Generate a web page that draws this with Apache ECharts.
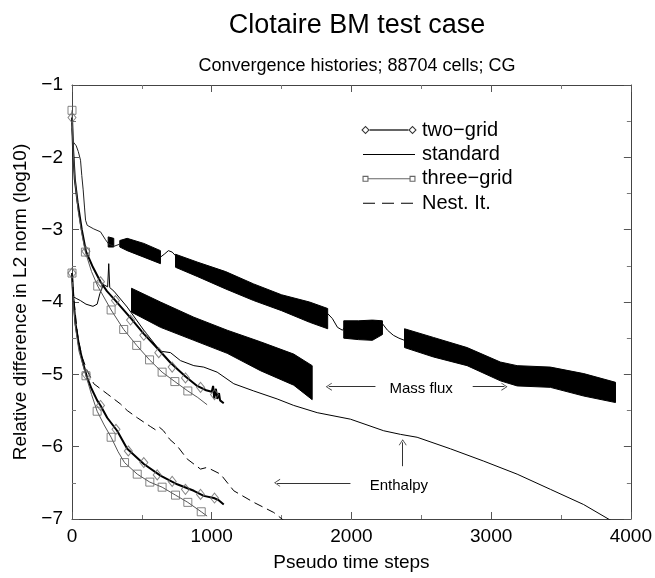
<!DOCTYPE html>
<html>
<head>
<meta charset="utf-8">
<script src="https://cdn.jsdelivr.net/npm/echarts@6/dist/echarts.min.js"></script>
<style>
  html, body { margin: 0; padding: 0; background: #fff; }
  #chart { width: 655px; height: 578px; }
</style>
</head>
<body>
<div id="chart"></div>
<script>
// --- data: [steps, log10 residual] ---
// mass flux
var twoGridMass = [[0,-1.45],[8,-1.9],[20,-2.3],[40,-2.62],[70,-3.0],[100,-3.3],[150,-3.52],[204,-3.72],[250,-3.85],[311,-3.98],[419,-4.22],[514,-4.44],[621,-4.66],[705,-4.84],[812,-5.03],[896,-5.16],[960,-5.22],[1000,-5.24],[1010,-5.16],[1018,-5.33],[1030,-5.2],[1040,-5.34],[1052,-5.26],[1060,-5.36],[1086,-5.4]];
var twoGridMassMarks = [[0,-1.45],[100,-3.3],[204,-3.72],[311,-3.98],[419,-4.25],[514,-4.46],[621,-4.7],[717,-4.9],[812,-5.05],[920,-5.18],[1020,-5.28]];
var threeGridMass = [[0,-1.35],[8,-1.9],[20,-2.3],[45,-2.75],[70,-3.05],[96,-3.31],[140,-3.58],[184,-3.78],[280,-4.11],[370,-4.38],[463,-4.6],[555,-4.8],[645,-4.97],[736,-5.1],[829,-5.23],[900,-5.32],[967,-5.42]];
var threeGridMassMarks = [[0,-1.35],[96,-3.31],[184,-3.78],[280,-4.11],[370,-4.38],[463,-4.6],[555,-4.8],[645,-4.97],[736,-5.1],[829,-5.23]];
var stdMassHead = [[0,-1.6],[6,-1.78],[15,-1.8],[30,-1.84],[45,-1.92],[61,-2.04],[70,-2.25],[80,-2.45],[90,-2.7],[97,-2.87],[109,-2.94],[156,-2.99],[204,-3.03],[240,-3.14],[263,-3.2],[300,-3.23],[342,-3.2]];
var stdMassLink1 = [[633,-3.38],[660,-3.34],[690,-3.29],[717,-3.31],[741,-3.36]];
var stdMassLink2 = [[1830,-4.16],[1864,-4.23],[1900,-4.35],[1936,-4.39],[1950,-4.35]];
var stdMassLink3 = [[2222,-4.3],[2258,-4.39],[2300,-4.46],[2340,-4.5],[2380,-4.53]];
// oscillating parts: [steps, upper envelope, lower envelope]
var stdBand0 = [[259,-3.1,-3.24],[299,-3.12,-3.24]];
var stdBandA = [[342,-3.15,-3.24],[395,-3.12,-3.29],[514,-3.19,-3.38],[633,-3.29,-3.47]];
var stdBandB = [[741,-3.34,-3.52],[900,-3.45,-3.65],[1100,-3.58,-3.82],[1300,-3.75,-3.98],[1500,-3.9,-4.12],[1700,-4.0,-4.28],[1830,-4.09,-4.37]];
var stdBandC = [[1945,-4.26,-4.5],[2050,-4.26,-4.52],[2150,-4.25,-4.53],[2222,-4.26,-4.45]];
var stdBandD = [[2380,-4.37,-4.63],[2587,-4.49,-4.76],[2828,-4.63,-4.88],[3066,-4.83,-5.09],[3186,-4.88,-5.16],[3424,-4.9,-5.18],[3663,-4.99,-5.3],[3890,-5.11,-5.39]];
var nestBand = [[426,-3.81,-4.14],[633,-4.0,-4.35],[872,-4.21,-4.53],[1111,-4.39,-4.71],[1349,-4.55,-4.95],[1587,-4.72,-5.15],[1719,-4.88,-5.35]];
// enthalpy
var twoGridEnth = [[0,-3.6],[10,-3.95],[25,-4.3],[50,-4.6],[80,-4.85],[109,-5.05],[140,-5.2],[180,-5.36],[204,-5.43],[252,-5.6],[323,-5.78],[395,-6.03],[514,-6.24],[633,-6.4],[753,-6.52],[872,-6.61],[943,-6.68],[1015,-6.71],[1050,-6.74],[1086,-6.8]];
var twoGridEnthMarks = [[0,-3.6],[100,-5.0],[204,-5.43],[315,-5.76],[403,-6.06],[514,-6.22],[610,-6.39],[717,-6.48],[812,-6.59],[920,-6.66],[1020,-6.71]];
var threeGridEnth = [[0,-3.6],[10,-4.0],[25,-4.35],[50,-4.68],[100,-5.02],[140,-5.28],[180,-5.51],[230,-5.7],[280,-5.87],[330,-6.07],[376,-6.22],[467,-6.38],[557,-6.49],[645,-6.56],[741,-6.67],[829,-6.77],[925,-6.9],[967,-6.96]];
var threeGridEnthMarks = [[0,-3.6],[100,-5.02],[180,-5.51],[280,-5.87],[376,-6.22],[467,-6.38],[557,-6.49],[645,-6.56],[741,-6.67],[829,-6.77],[925,-6.9]];
var stdEnth = [[0,-3.6],[4,-3.92],[30,-3.95],[60,-3.98],[100,-4.03],[150,-4.06],[180,-4.03],[200,-3.88],[225,-3.76],[255,-3.79],[263,-3.47],[270,-3.8],[300,-3.85],[395,-4.07],[514,-4.39],[633,-4.68],[705,-4.7],[776,-4.81],[872,-4.88],[943,-4.9],[1039,-4.97],[1158,-5.13],[1301,-5.23],[1468,-5.34],[1587,-5.43],[1755,-5.53],[1993,-5.62],[2231,-5.78],[2351,-5.83],[2470,-5.87],[2709,-6.03],[2947,-6.2],[3186,-6.38],[3424,-6.59],[3662,-6.8],[3866,-7.03]];
var nestEnth = [[0,-3.6],[15,-4.0],[40,-4.45],[70,-4.75],[109,-4.95],[156,-5.13],[252,-5.27],[347,-5.41],[395,-5.5],[467,-5.6],[560,-5.72],[600,-5.77],[625,-5.73],[655,-5.78],[700,-5.9],[753,-5.99],[824,-6.17],[920,-6.31],[960,-6.29],[991,-6.31],[1063,-6.38],[1158,-6.61],[1301,-6.77],[1444,-6.91],[1516,-7.02]];
// annotations
var massArrows = [[[2172,-5.17],[1838,-5.17]],[[2868,-5.17],[3095,-5.17]]];
var enthArrows = [[[1993,-6.5],[1468,-6.5]],[[2367,-6.27],[2367,-5.94]]];
var notes = [['Mass flux',2499,-5.2],['Enthalpy',2340,-6.54]];

var FONT = '"Liberation Sans", Arial, sans-serif';
var chevron = 'path://M5,0L10,10L9,10L5,2L1,10L0,10Z';
// legend icons drawn in a 56x10 box (corner specks keep the box size)
var BOX = ' M0,0L0.01,0Z M56,10L55.99,10Z';
var diamondIcon = 'path://M0.3,5L4.5,0.8L8.7,5L4.5,9.2Z M1.8,5L4.5,7.7L7.2,5L4.5,2.3Z M8.7,4.2L47.3,4.2L47.3,5.8L8.7,5.8Z M47.3,5L51.5,0.8L55.7,5L51.5,9.2Z M48.8,5L51.5,7.7L54.2,5L51.5,2.3Z' + BOX;
var squareIcon = 'path://M1.5,2L7.5,2L7.5,8L1.5,8Z M2.6,3.1L2.6,6.9L6.4,6.9L6.4,3.1Z M7.5,4.5L48.5,4.5L48.5,5.5L7.5,5.5Z M48.5,2L54.5,2L54.5,8L48.5,8Z M49.6,3.1L49.6,6.9L53.4,6.9L53.4,3.1Z' + BOX;
var plainIcon = 'path://M2,4.5L54,4.5L54,5.5L2,5.5Z' + BOX;
var dashIcon = 'path://M2,4.5L14,4.5L14,5.5L2,5.5Z M21,4.5L33,4.5L33,5.5L21,5.5Z M40,4.5L52,4.5L52,5.5L40,5.5Z' + BOX;

function minus(v) { return String(v).replace('-', '\u2212'); }

function lineS(name, data, color, width, type) {
  return {
    name: name, type: 'line', data: data, symbol: 'none', z: 3,
    lineStyle: { color: color, width: width, type: type || 'solid' },
    itemStyle: { color: color }
  };
}
function marks(name, data, symbol, size) {
  return {
    name: name, type: 'scatter', data: data, symbol: symbol, symbolSize: size, z: 4,
    itemStyle: { color: 'rgba(0,0,0,0)', borderColor: '#666', borderWidth: 1 }
  };
}
function band(data) {
  return {
    name: 'band', type: 'custom', silent: true, z: 2,
    data: [[data[0][0], data[0][1]]],
    renderItem: function (params, api) {
      var up = data.map(function (p) { return api.coord([p[0], p[1]]); });
      var lo = data.slice().reverse().map(function (p) { return api.coord([p[0], p[2]]); });
      return { type: 'polygon', shape: { points: up.concat(lo) },
               style: { fill: '#000', stroke: '#000', lineWidth: 1 } };
    }
  };
}
function arrowLines(list) {
  return list.map(function (a) { return [{ coord: a[0] }, { coord: a[1] }]; });
}

var axisCommon = {
  min: 0, max: 4000, interval: 1000,
  axisLine: { onZero: false, lineStyle: { color: '#444', width: 1 } },
  axisTick: { show: true, inside: true, length: 7, lineStyle: { color: '#555' } },
  minorTick: { show: true, splitNumber: 2, length: 4, lineStyle: { color: '#777' } },
  splitLine: { show: false }
};
var yCommon = {
  min: -7, max: -1, interval: 1,
  axisLine: { show: true, onZero: false, lineStyle: { color: '#444', width: 1 } },
  axisTick: { show: true, inside: true, length: 7, lineStyle: { color: '#555' } },
  minorTick: { show: true, splitNumber: 2, length: 4, lineStyle: { color: '#777' } },
  splitLine: { show: false }
};

var chart = echarts.init(document.getElementById('chart'));
chart.setOption({
  animation: false,
  backgroundColor: '#fff',
  title: [
    { text: 'Clotaire BM test case', left: 352, top: 7, textAlign: 'center',
      textStyle: { fontFamily: FONT, fontSize: 27, fontWeight: 'normal', color: '#000' } },
    { text: 'Convergence histories; 88704 cells; CG', left: 352, top: 52, textAlign: 'center',
      textStyle: { fontFamily: FONT, fontSize: 18, fontWeight: 'normal', color: '#000' } }
  ],
  grid: { left: 72, right: 24, top: 85, bottom: 59 },
  legend: {
    orient: 'vertical', left: 356, top: 115,
    itemWidth: 56, itemHeight: 10, itemGap: 4.4,
    textStyle: { fontFamily: FONT, fontSize: 20, color: '#000', lineHeight: 20 },
    data: [
      { name: 'two-grid', icon: diamondIcon, itemStyle: { color: '#333' } },
      { name: 'standard', icon: plainIcon, itemStyle: { color: '#000' } },
      { name: 'three-grid', icon: squareIcon, itemStyle: { color: '#666' } },
      { name: 'Nest. It.', icon: dashIcon, itemStyle: { color: '#000' } }
    ],
    formatter: function (n) { return n.replace('-', '\u2212'); }
  },
  xAxis: [
    Object.assign({ type: 'value', position: 'bottom', name: 'Pseudo time steps',
      nameLocation: 'middle', nameGap: 34,
      nameTextStyle: { fontFamily: FONT, fontSize: 19, color: '#000' },
      axisLabel: { margin: 8, fontFamily: FONT, fontSize: 19, color: '#000',
                   formatter: function (v) { return String(v); } } }, axisCommon),
    Object.assign({ type: 'value', position: 'top', axisLabel: { show: false } }, axisCommon)
  ],
  yAxis: [
    Object.assign({ type: 'value', position: 'left', name: 'Relative difference in L2 norm (log10)',
      nameLocation: 'middle', nameGap: 42,
      nameTextStyle: { fontFamily: FONT, fontSize: 19, color: '#000' },
      axisLabel: { margin: 9, fontFamily: FONT, fontSize: 19, color: '#000', formatter: minus } }, yCommon),
    Object.assign({ type: 'value', position: 'right', axisLabel: { show: false } }, yCommon)
  ],
  series: [
    band(stdBand0), band(stdBandA), band(stdBandB), band(stdBandC), band(stdBandD), band(nestBand),
    lineS('two-grid', twoGridMass, '#000', 2),
    lineS('two-grid', twoGridEnth, '#000', 2),
    lineS('standard', stdMassHead, '#222', 1),
    lineS('standard', stdMassLink1, '#000', 1),
    lineS('standard', stdMassLink2, '#000', 1),
    lineS('standard', stdMassLink3, '#000', 1),
    lineS('standard', stdEnth, '#000', 1),
    lineS('three-grid', threeGridMass, '#555', 1),
    lineS('three-grid', threeGridEnth, '#555', 1),
    lineS('Nest. It.', nestEnth, '#000', 1, [9, 5]),
    marks('two-grid', twoGridMassMarks, 'diamond', [8, 10]),
    marks('two-grid', twoGridEnthMarks, 'diamond', [8, 10]),
    marks('three-grid', threeGridMassMarks, 'rect', 8),
    marks('three-grid', threeGridEnthMarks, 'rect', 8),
    {
      name: 'notes', type: 'line', data: [], silent: true,
      markLine: {
        silent: true, symbol: ['none', chevron], symbolSize: [8, 6],
        lineStyle: { color: '#333', width: 1, type: 'solid' },
        label: { show: false },
        data: arrowLines(massArrows.concat(enthArrows))
      },
      markPoint: {
        silent: true, symbol: 'circle', symbolSize: 1,
        itemStyle: { color: 'rgba(0,0,0,0)' },
        label: { show: true, position: 'inside', fontFamily: FONT, fontSize: 15, color: '#000',
                 formatter: function (p) { return p.name; } },
        data: notes.map(function (n) { return { name: n[0], coord: [n[1], n[2]] }; })
      }
    }
  ]
});
</script>
</body>
</html>
